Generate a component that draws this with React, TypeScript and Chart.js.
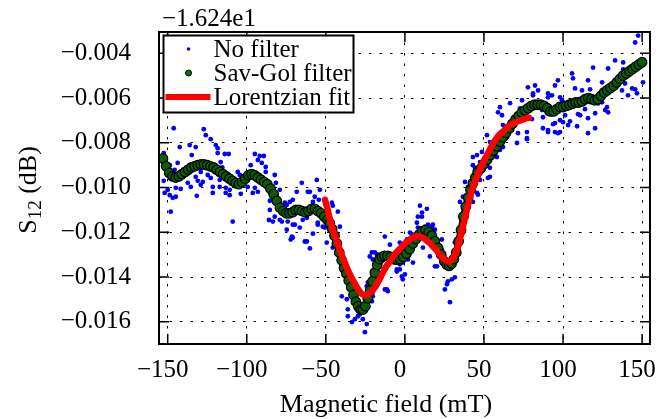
import React, { useEffect, useRef } from 'react';
import { Chart, registerables } from 'chart.js';

Chart.register(...registerables);

// ---- tick values / labels ----
const xTicks = [-150, -100, -50, 0, 50, 100, 150];
const yTicks = [-0.016, -0.014, -0.012, -0.01, -0.008, -0.006, -0.004];
const offsetText = '\u22121.624e1';
const seriesNames = ['No filter', 'Sav-Gol filter', 'Lorentzian fit'];
const xTitle = 'Magnetic field (mT)';

// ---- raw data (No filter); y in units of 1e-3 (offset from -16.24 dB) ----
const rawX = [
  -146.2, -127.2, -125.9, -122.8, -136.1, -132.3, -142.4, -119.6, -118.4, -118.4, -134.8, -113.9, -111.4, -152.5, -94.9, -91.8, -89.2, -93.0, -90.5, -116.5,
  -143.7, -97.5, -88.0, -148.7, -115.5, -129.1, -136.7, -145.6, -105.7, -104.4, -88.0, -82.3, -124.7, -140.5, -122.8, -132.3, -131.0, -152.5, -145.6, -137.3,
  -127.8, -91.8, -107.0, -101.3, -86.7, -117.1, -110.8, -81.6, -135.4, -141.8, -129.1, -121.5, -117.1, -113.3, -110.8, -99.4, -94.9, -150.0, -144.9, -148.7,
  -146.8, -144.9, -151.9, -121.5, -113.3, -110.8, -103.8, -96.2, -131.6, -93.0, -83.5, -85.4, -108.9, -148.1, -82.3, -83.5, -65.2, -55.7, -53.8, -60.1,
  -70.9, -75.9, -85.4, -86.0, -77.8, -74.7, -70.9, -70.9, -72.2, -66.5, -62.0, -60.1, -58.2, -55.1, -51.9, -49.4, -64.6, -79.1, -68.4, -61.4,
  -57.0, -58.2, -54.4, -72.8, -74.7, -69.0, -46.2, -45.6, -42.4, -79.1, -74.1, -69.6, -62.0, -63.3, -55.1, -50.6, -41.1, -71.5, -63.3, -45.6,
  -12.7, -9.5, -7.6, -5.1, -3.2, -22.2, -19.0, -17.1, -15.8, -23.4, -20.3, -20.9, -28.5, -31.6, -33.5, -26.6, -24.1, -25.3, -36.7, -36.1,
  -39.9, -30.4, -11.4, -10.8, -24.1, -20.9, -20.3, -17.7, -6.3, -5.1, -1.9, 0.0, -1.3, -12.7, -29.7, -36.1, -20.3, 5.1, 1.3, 4.4,
  8.2, 10.8, 12.7, 14.6, 17.1, 19.0, 15.8, 20.3, 23.4, 25.3, 27.2, 29.7, 31.6, 28.5, 32.9, 33.5, 34.8, 9.5, 13.9, 10.8,
  7.6, 17.7, 8.2, 3.2, 1.3, -3.2, 20.3, 23.4, 11.4, 1.9, -1.3, -3.2, 19.0, 26.6, 34.8, 36.7, 46.2, 31.6, 77.8, 82.3,
  84.2, 81.0, 90.5, 74.1, 66.5, 60.1, 58.9, 61.4, 62.0, 72.8, 80.4, 86.7, 89.9, 87.3, 90.5, 69.6, 71.5, 67.7, 64.6, 70.9,
  77.2, 62.0, 60.1, 51.9, 53.8, 57.0, 58.2, 51.9, 53.8, 48.7, 45.6, 47.5, 43.0, 43.0, 44.3, 53.8, 52.5, 38.0, 39.9, 45.6,
  47.5, 43.0, 145.6, 147.5, 119.0, 132.9, 138.0, 128.5, 105.7, 106.3, 96.8, 94.9, 90.5, 107.6, 112.0, 115.8, 124.7, 129.7, 139.2, 143.7,
  137.3, 141.1, 146.8, 113.9, 99.4, 103.2, 109.5, 122.2, 127.8, 128.5, 120.3, 110.8, 101.3, 98.1, 104.4, 94.9, 103.2, 108.9, 96.8, 115.8,
  120.3, 115.8, 87.3, 86.7, 138.0, 136.1, 141.1, 150.6, 145.6, 124.7, 126.6, 113.9, 109.5, 100.0, 93.7, 94.9, 90.5, 98.1, 80.4, 77.2,
  77.2, 117.1, 98.1, 93.0, 81.0,
];
const rawY = [
  -7.35, -7.39, -7.66, -7.84, -8.1, -8.19, -8.19, -8.1, -8.24, -8.46, -8.55, -8.5, -8.5, -8.46, -8.5, -8.59, -8.59, -8.77, -8.9, -8.86,
  -8.9, -9.0, -9.08, -9.0, -9.1, -9.3, -9.35, -9.21, -9.3, -9.44, -9.3, -9.44, -9.44, -9.52, -9.57, -9.52, -9.7, -9.7, -9.66, -9.79,
  -9.75, -9.66, -9.66, -9.52, -9.75, -9.66, -9.7, -9.79, -9.97, -10.06, -9.88, -9.97, -9.97, -10.01, -10.1, -9.97, -10.01, -10.1, -10.01, -10.34,
  -10.46, -10.41, -10.24, -10.24, -10.24, -10.34, -10.28, -10.24, -10.37, -10.19, -10.34, -10.59, -11.52, -11.08, -11.3, -11.52, -9.79, -9.66, -10.1, -10.19,
  -10.55, -10.68, -11.0, -11.45, -11.52, -11.88, -11.66, -12.24, -12.32, -11.79, -12.41, -12.72, -12.06, -11.66, -11.75, -12.46, -11.44, -10.1, -10.19, -10.19,
  -10.41, -10.64, -10.55, -10.64, -10.77, -10.9, -10.68, -10.81, -11.08, -11.44, -11.52, -11.66, -11.35, -11.12, -11.57, -11.79, -11.75, -12.19, -12.41, -12.68,
  -12.19, -12.55, -13.08, -13.66, -13.43, -13.08, -12.9, -13.21, -13.52, -14.24, -14.86, -15.08, -15.66, -15.88, -16.01, -15.88, -16.1, -16.46, -14.99, -15.44,
  -14.86, -15.44, -14.55, -14.63, -14.41, -12.9, -13.21, -12.99, -13.35, -13.75, -13.97, -13.88, -14.1, -14.55, -15.75, -15.75, -14.41, -13.35, -12.86, -12.1,
  -11.3, -11.12, -11.75, -11.66, -11.75, -11.88, -13.08, -13.52, -12.32, -14.55, -14.19, -14.1, -14.01, -15.12, -12.64, -12.46, -11.88, -10.81, -10.95, -11.3,
  -11.57, -11.66, -11.79, -12.01, -12.32, -12.46, -12.55, -12.77, -12.68, -13.21, -13.35, -13.66, -13.52, -14.32, -10.64, -10.41, -10.32, -12.46, -5.52, -5.44,
  -5.66, -5.79, -5.79, -6.1, -6.23, -6.41, -6.64, -6.77, -7.21, -6.46, -6.24, -6.24, -6.68, -7.35, -7.44, -7.08, -7.57, -7.44, -7.75, -8.01,
  -7.79, -8.19, -8.32, -7.66, -7.97, -8.55, -8.64, -9.0, -9.12, -8.41, -8.55, -8.86, -8.64, -9.0, -9.12, -9.52, -9.57, -9.75, -9.97, -10.24,
  -9.66, -10.64, -3.52, -3.21, -4.64, -4.32, -4.41, -4.68, -4.9, -5.12, -5.21, -5.44, -5.97, -5.57, -5.66, -5.21, -5.3, -5.44, -5.35, -5.57,
  -5.66, -5.88, -5.79, -5.97, -6.1, -6.19, -6.32, -6.24, -6.41, -6.64, -6.68, -6.77, -6.77, -6.99, -7.04, -7.12, -7.21, -7.26, -7.57, -7.57,
  -7.35, -6.9, -6.86, -6.54, -4.72, -5.08, -4.94, -5.3, -5.61, -6.19, -6.54, -6.5, -6.72, -7.08, -7.17, -7.52, -7.52, -7.52, -6.94, -7.52,
  -7.84, -5.61, -5.97, -5.88, -5.88,
];

// ---- Savitzky-Golay filtered curve; y in 1e-3 ----
const sgX = [
  -153, -151, -149, -147, -145, -143, -141, -139, -137, -135, -133, -131, -129, -127, -125, -123, -121, -119, -117, -115,
  -113, -111, -109, -107, -105, -103, -101, -99, -97, -95, -93, -91, -89, -87, -85, -83, -81, -79, -77, -75,
  -73, -71, -69, -67, -65, -63, -61, -59, -57, -55, -53, -51, -49, -47.5, -46, -44.5, -43, -41.5, -40, -38.5,
  -37, -35.5, -34, -32.5, -31, -29.5, -28, -26.5, -25, -23.5, -22, -20.5, -19, -17.5, -16, -14.5, -13, -11, -9, -7,
  -5, -3, -1, 1, 3, 5, 7, 9, 11, 13, 15, 17, 19, 21, 23, 25, 26.5, 28, 29.5, 31,
  32.5, 34, 35.5, 37, 38.5, 40, 41.5, 43, 44.5, 46, 48, 50, 52, 54, 56, 58, 60, 62, 64, 66,
  68, 70, 72, 74, 76, 78, 80, 82, 84, 86, 88, 90, 92, 94, 96, 98, 100, 102, 104, 106,
  108, 110, 112, 114, 116, 118, 120, 122, 124, 126, 128, 130, 132, 134, 136, 138, 140, 142, 144, 146, 148, 150,
];
const sgY = [
  -8.7, -9.05, -9.35, -9.5, -9.55, -9.5, -9.4, -9.3, -9.2, -9.1, -9.05, -9.0, -8.97, -8.97, -9.0, -9.05, -9.1, -9.2, -9.3, -9.4,
  -9.5, -9.6, -9.7, -9.8, -9.85, -9.75, -9.6, -9.45, -9.4, -9.45, -9.55, -9.65, -9.75, -9.85, -10.05, -10.3, -10.6, -10.9, -11.05, -11.15,
  -11.15, -11.1, -11.0, -11.0, -11.05, -11.1, -11.05, -10.95, -10.95, -11.05, -11.15, -11.3, -11.45, -11.6, -11.85, -12.15, -12.5, -12.9, -13.25, -13.6,
  -13.85, -14.15, -14.45, -14.8, -15.1, -15.3, -15.45, -15.45, -15.3, -14.95, -14.6, -14.2, -13.8, -13.45, -13.2, -13.1, -13.05, -13.05, -13.1, -13.2,
  -13.22, -13.2, -13.1, -12.95, -12.75, -12.5, -12.3, -12.1, -11.95, -11.9, -12.0, -12.15, -12.4, -12.7, -13.0, -13.3, -13.45, -13.5, -13.4, -13.2,
  -12.9, -12.4, -11.9, -11.3, -10.85, -10.45, -10.1, -9.8, -9.55, -9.3, -9.15, -8.95, -8.75, -8.55, -8.35, -8.15, -7.95, -7.75, -7.55, -7.35,
  -7.15, -6.95, -6.8, -6.65, -6.55, -6.45, -6.35, -6.3, -6.3, -6.3, -6.35, -6.45, -6.6, -6.6, -6.5, -6.4, -6.4, -6.35, -6.3, -6.25,
  -6.2, -6.2, -6.15, -6.05, -6.0, -6.05, -6.1, -6.05, -5.9, -5.75, -5.65, -5.55, -5.45, -5.3, -5.15, -5.0, -4.9, -4.8, -4.7, -4.6, -4.5, -4.4,
];

// ---- Lorentzian fit; y in 1e-3 ----
const fitX = [
  -50.5, -49, -47.5, -46, -44, -42, -40, -38, -36, -34, -32, -30, -28, -26, -24, -22, -20, -18, -16, -14,
  -12, -10, -8, -6, -4, -2, 0, 2, 4, 6, 8, 10, 12, 14, 16, 18, 20, 22, 24, 26,
  28, 30, 32, 34, 36, 38, 40, 42, 44, 46, 48, 50, 53, 56, 59, 62, 65, 68, 71, 74, 77, 78.5,
];
const fitY = [
  -10.55, -10.95, -11.4, -11.8, -12.2, -12.6, -13.0, -13.35, -13.7, -14.0, -14.25, -14.5, -14.7, -14.8, -14.8, -14.7, -14.55, -14.35, -14.1, -13.8,
  -13.55, -13.35, -13.15, -12.95, -12.8, -12.65, -12.5, -12.38, -12.28, -12.2, -12.18, -12.2, -12.27, -12.38, -12.5, -12.65, -12.8, -13.0, -13.15, -13.25,
  -13.3, -13.2, -12.95, -12.5, -11.95, -11.35, -10.75, -10.2, -9.8, -9.45, -9.1, -8.8, -8.4, -8.0, -7.7, -7.5, -7.3, -7.15, -7.05, -6.98, -6.9, -6.88,
];

const FONT = 'Liberation Serif';
const MINUS = '\u2212';

const pts = (xs: number[], ys: number[]) => xs.map((x, i) => ({ x, y: ys[i] * 1e-3 }));

const framePlugin = {
  id: 'framePlugin',
  afterDatasetsDraw(chart: any) {
    const { ctx, chartArea: a, scales } = chart;
    const xs = scales.x;
    const ys = scales.y;
    ctx.save();
    // inward tick marks on all four sides
    ctx.strokeStyle = '#000';
    ctx.lineWidth = 1.5;
    const L = 10;
    ctx.beginPath();
    for (const v of xTicks) {
      const p = xs.getPixelForValue(v);
      ctx.moveTo(p, a.bottom);
      ctx.lineTo(p, a.bottom - L);
      ctx.moveTo(p, a.top);
      ctx.lineTo(p, a.top + L);
    }
    for (const v of yTicks) {
      const p = ys.getPixelForValue(v);
      ctx.moveTo(a.left, p);
      ctx.lineTo(a.left + L, p);
      ctx.moveTo(a.right, p);
      ctx.lineTo(a.right - L, p);
    }
    ctx.stroke();
    // spines
    ctx.lineWidth = 2;
    ctx.strokeRect(a.left, a.top, a.right - a.left, a.bottom - a.top);

    // legend
    const lx = a.left + 4.5;
    const ly = a.top + 3.5;
    const lw = 190;
    const lh = 77;
    ctx.fillStyle = '#fff';
    ctx.fillRect(lx, ly, lw, lh);
    const rows = [ly + 13.5, ly + 37.5, ly + 61.5];
    const mx = lx + 25;
    ctx.fillStyle = '#0000ff';
    ctx.beginPath();
    ctx.arc(mx, rows[0], 1.8, 0, Math.PI * 2);
    ctx.fill();
    ctx.fillStyle = '#007a00';
    ctx.strokeStyle = '#000';
    ctx.lineWidth = 1;
    ctx.beginPath();
    ctx.arc(mx, rows[1], 3, 0, Math.PI * 2);
    ctx.fill();
    ctx.stroke();
    ctx.strokeStyle = '#ff0000';
    ctx.lineWidth = 6;
    ctx.lineCap = 'butt';
    ctx.beginPath();
    ctx.moveTo(lx + 2, rows[2]);
    ctx.lineTo(lx + 47, rows[2]);
    ctx.stroke();
    ctx.fillStyle = '#000';
    ctx.font = `25px "${FONT}"`;
    ctx.textAlign = 'left';
    ctx.textBaseline = 'middle';
    seriesNames.forEach((n, i) => ctx.fillText(n, lx + 50, rows[i] + 1));
    ctx.strokeStyle = '#000';
    ctx.lineWidth = 2;
    ctx.strokeRect(lx, ly, lw, lh);

    // offset text
    ctx.fillStyle = '#000';
    ctx.font = `25px "${FONT}"`;
    ctx.textAlign = 'left';
    ctx.textBaseline = 'middle';
    ctx.fillText(offsetText, a.left + 3, 19);

    // x title
    ctx.font = `26px "${FONT}"`;
    ctx.textAlign = 'center';
    ctx.fillText(xTitle, 386, 405);

    // y title: S_12 (dB)
    ctx.save();
    ctx.translate(28, (a.top + a.bottom) / 2 + 2);
    ctx.rotate(-Math.PI / 2);
    const big = `26px "${FONT}"`;
    const small = `19px "${FONT}"`;
    ctx.font = big;
    const wS = ctx.measureText('S').width;
    const wRest = ctx.measureText(' (dB)').width;
    ctx.font = small;
    const wSub = ctx.measureText('12').width;
    const total = wS + wSub + wRest;
    let cx = -total / 2;
    ctx.textAlign = 'left';
    ctx.textBaseline = 'alphabetic';
    ctx.font = big;
    ctx.fillText('S', cx, 8);
    cx += wS;
    ctx.font = small;
    ctx.fillText('12', cx, 13);
    cx += wSub;
    ctx.font = big;
    ctx.fillText(' (dB)', cx, 8);
    ctx.restore();

    ctx.restore();
  },
};

export default function App() {
  const ref = useRef<HTMLCanvasElement | null>(null);
  useEffect(() => {
    if (!ref.current) return;
    const tickFont = { family: FONT, size: 25 };
    const chart = new Chart(ref.current, {
      type: 'scatter',
      data: {
        datasets: [
          {
            label: seriesNames[2],
            data: pts(fitX, fitY),
            showLine: true,
            borderColor: '#ff0000',
            borderWidth: 6.5,
            borderCapStyle: 'round',
            pointRadius: 0,
            cubicInterpolationMode: 'monotone',
            order: 0,
          },
          {
            label: seriesNames[1],
            data: pts(sgX, sgY),
            showLine: true,
            borderColor: '#081a08',
            borderWidth: 7,
            pointRadius: 4.8,
            pointBackgroundColor: '#0a5c0a',
            pointBorderColor: '#000',
            pointBorderWidth: 1.2,
            order: 1,
          },
          {
            label: seriesNames[0],
            data: pts(rawX, rawY),
            pointRadius: 2.4,
            pointBackgroundColor: '#0000ff',
            pointBorderWidth: 0,
            showLine: false,
            order: 2,
          },
        ],
      } as any,
      options: {
        animation: false,
        responsive: false,
        devicePixelRatio: 1,
        events: [],
        layout: { autoPadding: false, padding: { top: 32, right: 20, left: 0, bottom: 0 } },
        plugins: { legend: { display: false }, tooltip: { enabled: false } },
        scales: {
          x: {
            type: 'linear',
            min: -155.5,
            max: 155,
            afterBuildTicks: (ax: any) => {
              ax.ticks = xTicks.map((v) => ({ value: v }));
            },
            afterFit: (s: any) => {
              s.height = 75;
              s.paddingLeft = 0;
              s.paddingRight = 0;
              s.paddingTop = 0;
              s.paddingBottom = 0;
            },
            grid: { color: '#000', lineWidth: 1, drawTicks: false },
            border: { display: false, dash: [2.5, 8] },
            ticks: {
              font: tickFont,
              color: '#000',
              padding: 11,
              labelOffset: -5,
              maxRotation: 0,
              autoSkip: false,
              callback: (v: any) => (v < 0 ? MINUS + Math.abs(v) : String(v)),
            },
          },
          y: {
            type: 'linear',
            min: -0.01699,
            max: -0.00305,
            afterBuildTicks: (ax: any) => {
              ax.ticks = yTicks.map((v) => ({ value: v }));
            },
            afterFit: (s: any) => {
              s.width = 159;
              s.paddingLeft = 0;
              s.paddingRight = 0;
              s.paddingTop = 0;
              s.paddingBottom = 0;
            },
            grid: { color: '#000', lineWidth: 1, drawTicks: false },
            border: { display: false, dash: [2.5, 8] },
            ticks: {
              font: tickFont,
              color: '#000',
              padding: 28,
              autoSkip: false,
              callback: (v: any) => MINUS + Math.abs(v).toFixed(3),
            },
          },
        },
      } as any,
      plugins: [framePlugin],
    });
    return () => chart.destroy();
  }, []);
  return (
    <div style={{ position: 'absolute', left: 0, top: 0, width: 670, height: 419, background: '#fff' }}>
      <canvas ref={ref} width={670} height={419} style={{ width: 670, height: 419 }} />
    </div>
  );
}
